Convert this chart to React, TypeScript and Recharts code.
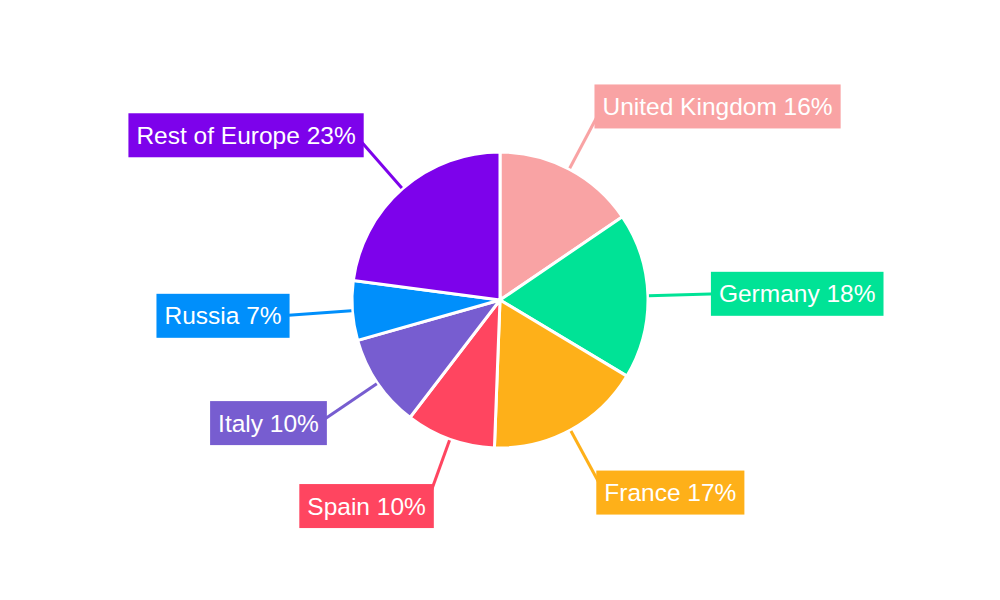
import { Cell, Pie, PieChart, type PieLabelRenderProps } from "recharts";

const countries = ["United Kingdom", "Germany", "France", "Spain", "Italy", "Russia", "Rest of Europe"];
const shares = [15.5, 18.1, 17.0, 9.8, 10.2, 6.5, 22.9];
const colors = ["#F9A3A4", "#00E396", "#FEB019", "#FF4560", "#775DD0", "#008FFB", "#7D02EB"];

const data = countries.map((name, i) => ({ name, value: shares[i], color: colors[i] }));

const RADIAN = Math.PI / 180;
const FONT_SIZE = 24.5;
const FONT_FAMILY = "'Liberation Sans', Arial, sans-serif";
const BOX_H = 44;
const PAD_X = 8;
const LABEL_OFFSET = 71; // distance from the rim to the text anchor

let ctx: CanvasRenderingContext2D | null = null;
function textWidth(s: string) {
  if (!ctx) ctx = document.createElement("canvas").getContext("2d");
  if (!ctx) return s.length * 12;
  ctx.font = `${FONT_SIZE}px ${FONT_FAMILY}`;
  return ctx.measureText(s).width;
}

// leader line runs from the rim to the text anchor; the coloured box covers its end
function renderLabel(props: PieLabelRenderProps) {
  const cx = Number(props.cx ?? 0);
  const cy = Number(props.cy ?? 0);
  const mid = Number(props.midAngle ?? 0);
  const outer = Number(props.outerRadius ?? 0);
  const value = Number(props.value ?? 0);
  const color = String((props as any).payload?.color ?? props.fill);
  const cos = Math.cos(-mid * RADIAN);
  const sin = Math.sin(-mid * RADIAN);
  const sx = cx + (outer + 1) * cos;
  const sy = cy + (outer + 1) * sin;
  const ax = cx + (outer + LABEL_OFFSET) * cos;
  const ay = cy + (outer + LABEL_OFFSET) * sin;
  const text = `${props.name} ${Math.round(value)}%`;
  const tw = textWidth(text);
  const right = cos >= 0;
  const boxX = right ? ax - PAD_X : ax - tw - PAD_X;
  return (
    <g>
      <line x1={sx} y1={sy} x2={ax} y2={ay} stroke={color} strokeWidth={3} />
      <rect x={boxX} y={ay - BOX_H / 2} width={tw + PAD_X * 2} height={BOX_H} fill={color} />
      <text
        x={ax}
        y={ay}
        textAnchor={right ? "start" : "end"}
        dominantBaseline="central"
        fontFamily={FONT_FAMILY}
        fontSize={FONT_SIZE}
        fill="#ffffff"
      >
        {text}
      </text>
    </g>
  );
}

export default function App() {
  return (
    <div style={{ width: 984, height: 584, background: "#ffffff" }}>
      <PieChart width={984} height={584} margin={{ top: 0, right: 0, bottom: 0, left: 0 }}>
        <Pie
          data={data}
          dataKey="value"
          nameKey="name"
          cx={492}
          cy={292}
          outerRadius={148}
          startAngle={90}
          endAngle={-270}
          stroke="#ffffff"
          strokeWidth={3}
          isAnimationActive={false}
          label={renderLabel}
          labelLine={false}
        >
          {data.map((d) => (
            <Cell key={d.name} fill={d.color} />
          ))}
        </Pie>
      </PieChart>
    </div>
  );
}
